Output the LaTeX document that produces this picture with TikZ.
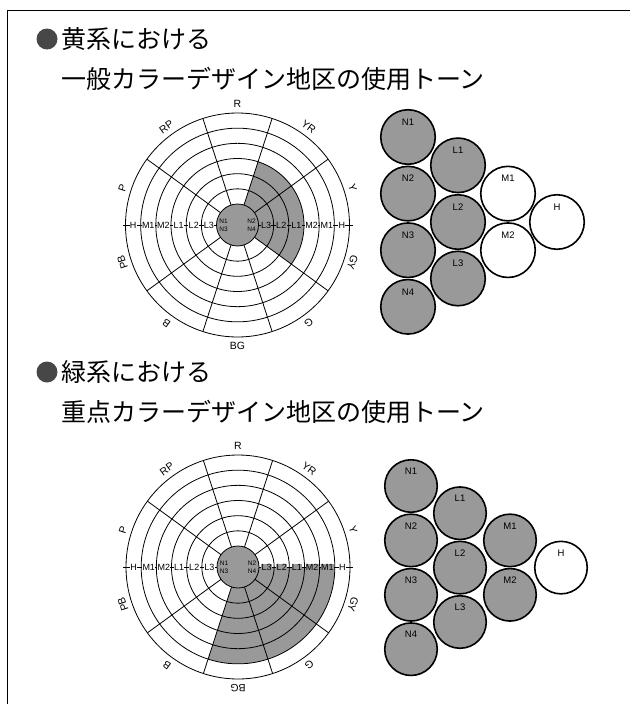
\documentclass[tikz,border=0pt]{standalone}
\usepackage{fontspec}
\setmainfont{Liberation Sans}
\newfontfamily\jpfont{Noto Sans CJK JP}
\definecolor{shadegray}{gray}{0.6}
\tikzset{
  ring/.style={line width=0.8pt},
  axislbl/.style={font=\fontsize{9}{9}\selectfont, inner sep=0.3pt, fill=white},
  axislblsh/.style={axislbl, fill=shadegray},
  huelbl/.style={font=\fontsize{10.5}{11}\selectfont, inner sep=0pt},
  nlbl/.style={font=\fontsize{6.5}{7}\selectfont, inner sep=0pt},
  tone/.style={circle, draw, line width=1.6pt, inner sep=0pt},
  toneon/.style={tone, fill=shadegray},
  toneoff/.style={tone, fill=white},
  tonelbl/.style={font=\fontsize{9.5}{10}\selectfont, inner sep=0pt},
  titletext/.style={font=\jpfont\fontsize{25}{30}\selectfont, anchor=west, inner sep=0pt},
  bulletdot/.style={circle, fill=black!72, minimum size=21pt, inner sep=0pt},
}
% #1 name, #2 centre, #3 shade start, #4 shade end, #5 shade radius, #6 BG rotation
\newcommand\huewheel[6]{%
\begin{scope}[shift={#2}]
  \fill[shadegray] (0,0) -- (#3:#5) arc[start angle=#3, end angle=#4, radius=#5] -- cycle;
  \fill[shadegray] (0,0) circle (21);
  \foreach \r in {36.17,51.33,66.5,81.67,96.83,112} \draw[ring] (0,0) circle (\r);
  \draw[ring] (0,0) circle (21);
  \foreach \a in {36,72,108,144,216,252,288,324} \draw[ring] (\a:21) -- (\a:112);
  \draw[ring] (21,0) -- (115,0);
  \draw[ring] (-21,0) -- (-115,0);
  \foreach \r/\t in {28.6/L3,43.75/L2,58.9/L1,74.1/M2,89.25/M1,104.4/H}
    \node[axislbl] (#1-l\t) at (-\r,0) {\t};
  \foreach \r/\t in {28.6/L3,43.75/L2,58.9/L1,74.1/M2,89.25/M1,104.4/H}{
    \pgfmathtruncatemacro\insh{\r<#5 ? 1 : 0}
    \ifnum\insh=1
      \node[axislblsh] (#1-r\t) at (\r,0) {\t};
    \else
      \node[axislbl] (#1-r\t) at (\r,0) {\t};
    \fi
  }
  \foreach \a/\t in {90/R,54/YR,18/Y,-18/GY,-54/G,-126/B,-162/PB,162/P,126/RP}
    \node[huelbl, rotate=\a-90] (#1-\t) at (\a:121) {\t};
  \node[huelbl, rotate=#6] (#1-BG) at (-90:121) {BG};
  \node[nlbl] (#1-N1) at (-14,4) {N1};
  \node[nlbl] (#1-N3) at (-14,-4) {N3};
  \node[nlbl] (#1-N2) at (14,4) {N2};
  \node[nlbl] (#1-N4) at (14,-4) {N4};
\end{scope}}
\begin{document}
\begin{tikzpicture}[x=1pt,y=1pt]
\useasboundingbox (0,0) rectangle (630,-704);
\draw[line width=0.8pt] (7,-704) -- (7,-10) -- (630,-10);

% ---------- titles ----------
\node[bulletdot] (b1) at (47,-39) {};
\node[titletext] (t1a) at (61,-39) {黄系における};
\node[titletext] (t1b) at (61,-79) {一般カラーデザイン地区の使用トーン};
\node[bulletdot] (b2) at (47,-372) {};
\node[titletext] (t2a) at (61,-372) {緑系における};
\node[titletext] (t2b) at (61,-412) {重点カラーデザイン地区の使用トーン};

% ---------- wheels ----------
\huewheel{wa}{(237.5,-225)}{-36}{72}{66.5}{0}
\huewheel{wb}{(238,-567)}{-108}{0}{96.83}{180}

% ---------- tone circles ----------
\foreach \n/\x/\y/\s in {N1/408/137/on, N2/408/193.6/on, N3/408/250.2/on, N4/408/306.8/on,
                         L1/458/165.3/on, L2/458/222/on, L3/458/278.5/on,
                         M1/508/193.6/off, M2/508/250.2/off, H/557/222/off}{
  \node[tone\s, minimum size=54.5pt] (ta-\n) at (\x,-\y) {};
  \node[tonelbl] (ta-\n-lbl) at (\x,-\y+15) {\n};
}
\foreach \n/\x/\y/\s in {N1/411/486/on, N2/411/540.4/on, N3/411/594.8/on, N4/411/649.2/on,
                         L1/460/513.2/on, L2/460/567.6/on, L3/460/622/on,
                         M1/510/540.4/on, M2/510/594.8/on, H/561/567.6/off}{
  \node[tone\s, minimum size=52.5pt] (tb-\n) at (\x,-\y) {};
  \node[tonelbl] (tb-\n-lbl) at (\x,-\y+14.5) {\n};
}
\end{tikzpicture}
\end{document}
